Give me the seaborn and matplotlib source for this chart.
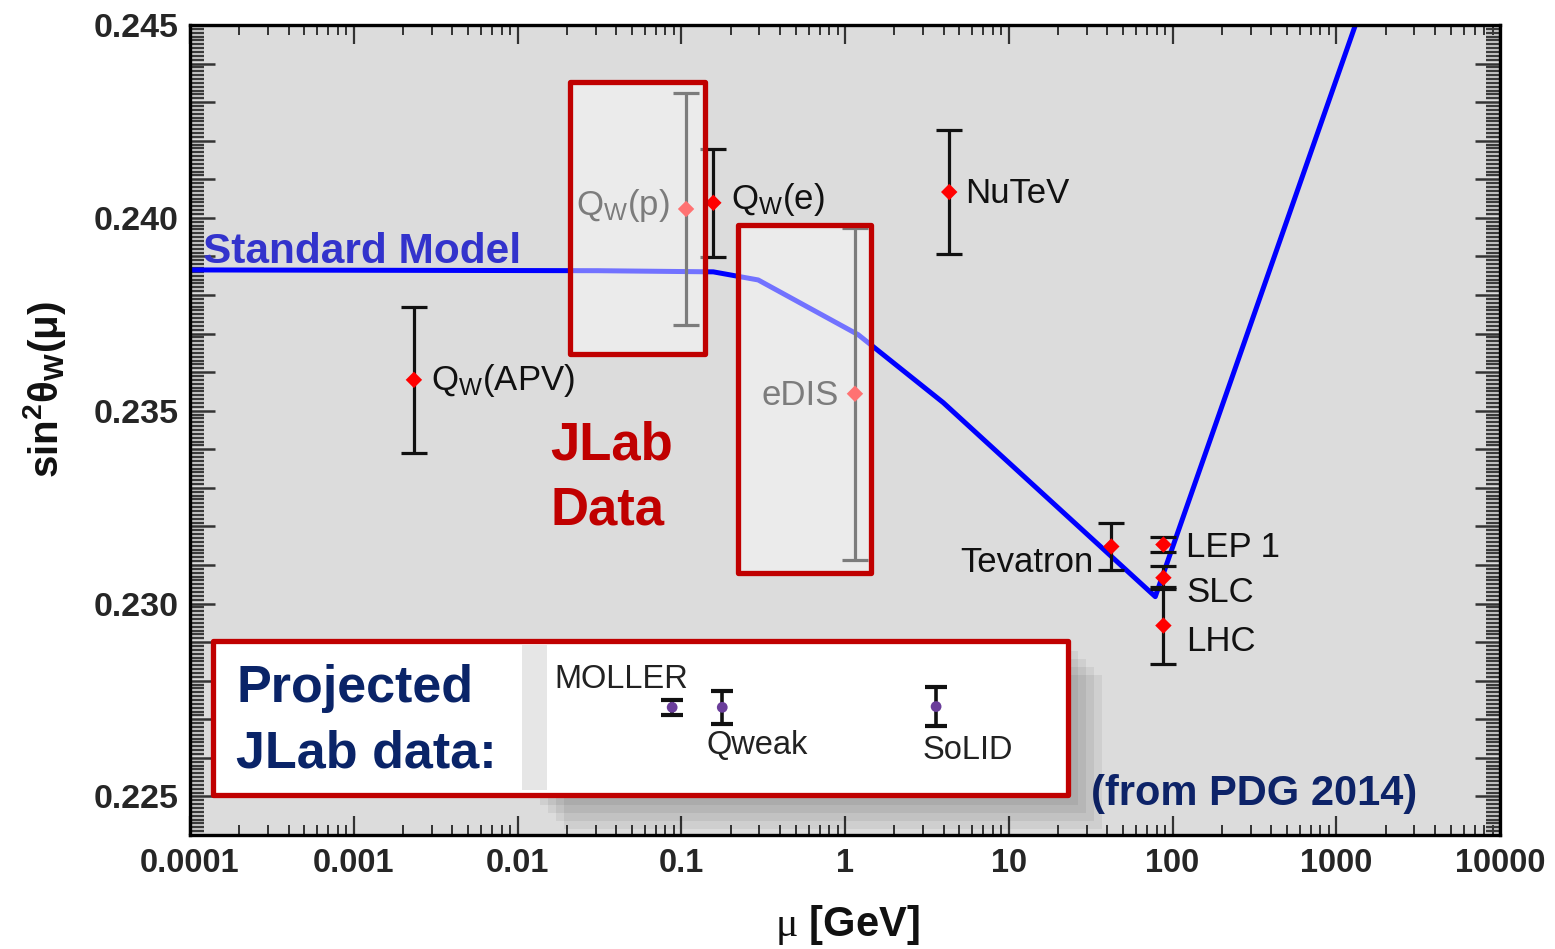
import numpy as np
import pandas as pd
import matplotlib
matplotlib.use("Agg")
import matplotlib.pyplot as plt
import seaborn as sns
from matplotlib.patches import Rectangle
from matplotlib.ticker import FixedLocator, MultipleLocator, LogLocator, NullFormatter, FixedFormatter

# ---------------- data ----------------
exp_names = ["Q$_\\mathsf{W}$(APV)", "Q$_\\mathsf{W}$(p)", "Q$_\\mathsf{W}$(e)", "eDIS", "NuTeV",
             "Tevatron", "LEP 1", "SLC", "LHC"]
exp_mu = [0.00233, 0.107, 0.157, 1.15, 4.33, 42.3, 88.0, 88.0, 88.0]
exp_sin2 = [0.2358, 0.24023, 0.24039, 0.23544, 0.24067, 0.23148, 0.23153, 0.23067, 0.22943]
exp_err = [0.0019, 0.0030, 0.0014, 0.0043, 0.0016, 0.0006, 0.0002, 0.0003, 0.0010]

sm_mu = [1e-4, 0.0311, 0.157, 0.295, 1.205, 3.98, 78.5, 1309.0]
sm_sin2 = [0.23865, 0.23863, 0.23860, 0.23839, 0.23697, 0.23521, 0.23018, 0.2450]

proj_names = ["MOLLER", "Qweak", "SoLID"]
proj_mu = [0.088, 0.178, 3.6]
proj_sin2 = [0.22731, 0.22731, 0.22733]
proj_err = [0.0002, 0.00043, 0.0005]

x_ticks = [1e-4, 1e-3, 1e-2, 1e-1, 1, 10, 100, 1000, 10000]
x_ticklabels = ["0.0001", "0.001", "0.01", "0.1", "1", "10", "100", "1000", "10000"]
y_ticks = [0.225, 0.230, 0.235, 0.240, 0.245]
y_ticklabels = ["0.225", "0.230", "0.235", "0.240", "0.245"]

# ---------------- style ----------------
sns.set_theme(style="ticks")
plt.rcParams["font.family"] = ["Liberation Sans", "DejaVu Sans"]
plt.rcParams["mathtext.fontset"] = "custom"
plt.rcParams["mathtext.rm"] = "Liberation Sans"
plt.rcParams["mathtext.sf"] = "Liberation Sans"
plt.rcParams["mathtext.bf"] = "Liberation Sans:bold"
plt.rcParams["mathtext.it"] = "Liberation Sans:italic"
plt.rcParams["mathtext.cal"] = "Liberation Serif"

fig = plt.figure(figsize=(15.55, 9.49), dpi=100)
fig.patch.set_facecolor("white")
ax = fig.add_axes([190 / 1555, 114 / 949, 1310 / 1555, 810 / 949])
ax.set_facecolor("#dcdcdc")
ax.set_xscale("log")

# Standard Model curve
sm_df = pd.DataFrame({"mu": sm_mu, "sin2": sm_sin2})
sns.lineplot(data=sm_df, x="mu", y="sin2", color="#0000ff", lw=3.6, sort=False,
             estimator=None, ax=ax, zorder=2)

# experimental points
ax.errorbar(exp_mu, exp_sin2, yerr=exp_err, fmt="none", ecolor="#111111",
            elinewidth=2.3, capsize=9.5, capthick=2.3, zorder=3)
exp_df = pd.DataFrame({"mu": exp_mu, "sin2": exp_sin2})
sns.scatterplot(data=exp_df, x="mu", y="sin2", marker="D", color="#ff0000", s=70,
                edgecolor="none", ax=ax, zorder=4, legend=False)

label_pos = {
    0: (0.002966, 0.23554, "left"),
    1: (0.0228, 0.24008, "left"),
    2: (0.1999, 0.24023, "left"),
    3: (0.3076, 0.23516, "left"),
    4: (5.42, 0.24039, "left"),
    5: (32.8, 0.23083, "right"),
    6: (121.4, 0.23122, "left"),
    7: (121.4, 0.23005, "left"),
    8: (121.4, 0.22876, "left"),
}
for i, name in enumerate(exp_names):
    lx, ly, ha = label_pos[i]
    ax.text(lx, ly, name, fontsize=25, color="#111111", ha=ha, va="baseline", zorder=4)

# JLab boxes (semi-transparent overlay with red frame)
for (x0, x1, y0, y1) in [(0.02097, 0.1398, 0.236477, 0.243523), (0.2228, 1.446, 0.23078, 0.23982)]:
    ax.add_patch(Rectangle((x0, y0), x1 - x0, y1 - y0, facecolor=(1, 1, 1, 0.45),
                           edgecolor="#c00000", lw=3.8, joinstyle="round", zorder=5))

ax.text(1.2e-4, 0.23883, "Standard Model", fontsize=30.5, fontweight="bold", color="#3333cc",
        ha="left", va="baseline", zorder=6)
ax.text(0.01582, 0.23373, "JLab", fontsize=38, fontweight="bold", color="#c00000",
        ha="left", va="baseline", zorder=6)
ax.text(0.01592, 0.23205, "Data", fontsize=38, fontweight="bold", color="#c00000",
        ha="left", va="baseline", zorder=6)
ax.text(31.9, 0.22479, "(from PDG 2014)", fontsize=30, fontweight="bold", color="#0d2368",
        ha="left", va="baseline", zorder=6)

# Projected data box
bx0, by0, bw, bh = 23 / 1310, 40 / 810, 855 / 1310, 154 / 810
sx0 = 340 / 1310
for k, off in enumerate([34, 26, 18, 10]):
    ax.add_patch(Rectangle((sx0 + off / 1310, by0 - off / 810), bx0 + bw - sx0, bh,
                           transform=ax.transAxes, facecolor="#000000", alpha=0.06,
                           edgecolor="none", zorder=6.5, clip_on=False))
ax.add_patch(Rectangle((bx0, by0), bw, bh, transform=ax.transAxes, facecolor="white",
                       edgecolor="#c00000", lw=3.8, joinstyle="round", zorder=7, clip_on=False))
ax.add_patch(Rectangle((332 / 1310, 45 / 810), 25 / 1310, 145 / 810, transform=ax.transAxes,
                       facecolor="#e6e6e6", edgecolor="none", zorder=7.2))
ax.text(46 / 1310, 133 / 810, "Projected", transform=ax.transAxes, fontsize=37.5,
        fontweight="bold", color="#0a2468", ha="left", va="baseline", zorder=8)
ax.text(46 / 1310, 68 / 810, "JLab data:", transform=ax.transAxes, fontsize=37.5,
        fontweight="bold", color="#0a2468", ha="left", va="baseline", zorder=8)

ax.errorbar(proj_mu, proj_sin2, yerr=proj_err, fmt="none", ecolor="#111111",
            elinewidth=2.6, capsize=8, capthick=3, zorder=8)
proj_df = pd.DataFrame({"mu": proj_mu, "sin2": proj_sin2})
sns.scatterplot(data=proj_df, x="mu", y="sin2", marker="o", color="#6a3d9a", s=60,
                edgecolor="none", ax=ax, zorder=9, legend=False)
proj_pos = [(0.01674, 0.22782), (0.1422, 0.22609), (2.962, 0.22596)]
for name, (lx, ly) in zip(proj_names, proj_pos):
    ax.text(lx, ly, name, fontsize=23.5, color="#222222", ha="left", va="baseline", zorder=9)

# ---------------- axes ----------------
ax.set_xlim(1e-4, 1e4)
ax.set_ylim(0.224, 0.245)
ax.xaxis.set_major_locator(FixedLocator(x_ticks))
ax.xaxis.set_major_formatter(FixedFormatter(x_ticklabels))
ax.xaxis.set_minor_locator(LogLocator(base=10, subs=np.arange(2, 10), numticks=30))
ax.xaxis.set_minor_formatter(NullFormatter())

y_major = [round(0.224 + 0.001 * i, 3) for i in range(22)]
y_labels = [y_ticklabels[y_ticks.index(v)] if v in y_ticks else "" for v in y_major]
ax.yaxis.set_major_locator(FixedLocator(y_major))
ax.yaxis.set_major_formatter(FixedFormatter(y_labels))
ax.yaxis.set_minor_locator(MultipleLocator(0.0001))

ax.tick_params(axis="both", which="both", direction="in", top=True, right=True)
ax.tick_params(axis="x", which="major", length=14, width=1.6, color="#333333", pad=9,
               labelsize=23.5)
ax.tick_params(axis="x", which="minor", length=7, width=1.4, color="#333333")
ax.tick_params(axis="y", which="major", length=18, width=1.8, color="#333333", pad=8,
               labelsize=24.5)
ax.tick_params(axis="y", which="minor", length=10, width=1.7, color="#3a3a3a")
for lab in ax.get_xticklabels() + ax.get_yticklabels():
    lab.set_fontweight("bold")

for sp in ax.spines.values():
    sp.set_linewidth(2.4)
    sp.set_color("black")

ax.set_xlabel(r"$\mathcal{\mu}$ [GeV]", fontsize=30, fontweight="bold", color="#111111")
ax.xaxis.set_label_coords(0.502, -68 / 810)
ax.xaxis.label.set_va("top")
ax.set_ylabel("sin$^{\\mathbf{2}}$θ$_{\\mathbf{W}}$(μ)", fontsize=29, fontweight="bold",
              color="#111111")
ax.yaxis.set_label_coords(-122 / 1310, 0.55)

fig.savefig("out.png", dpi=100)
